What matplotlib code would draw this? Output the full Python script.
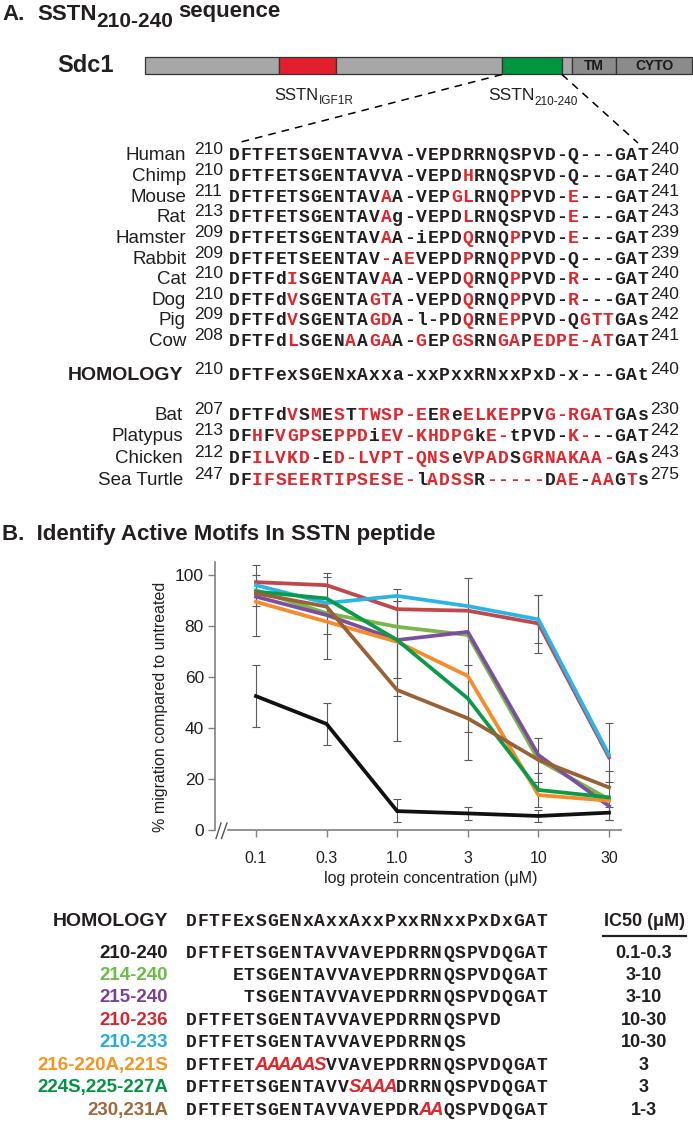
import matplotlib
matplotlib.use("Agg")
import matplotlib.pyplot as plt
from matplotlib.lines import Line2D
from matplotlib.patches import Rectangle

# ---------------- data ----------------
# Panel A: alignment
species = ["Human", "Chimp", "Mouse", "Rat", "Hamster", "Rabbit", "Cat", "Dog", "Pig", "Cow"]
species_start = [210, 210, 211, 213, 209, 209, 210, 210, 209, 208]
species_end = [240, 240, 241, 243, 239, 239, 240, 240, 242, 241]
species_seq = [
    "DFTFETSGENTAVVA-VEPDRRNQSPVD-Q---GAT",
    "DFTFETSGENTAVVA-VEPDHRNQSPVD-Q---GAT",
    "DFTFETSGENTAVAA-VEPGLRNQPPVD-E---GAT",
    "DFTFETSGENTAVAg-VEPDLRNQSPVD-E---GAT",
    "DFTFETSGENTAVAA-iEPDQRNQPPVD-E---GAT",
    "DFTFETSEENTAV-AEVEPDPRNQPPVD-Q---GAT",
    "DFTFdISGENTAVAA-VEPDQRNQPPVD-R---GAT",
    "DFTFdVSGENTAGTA-VEPDQRNQPPVD-R---GAT",
    "DFTFdVSGENTAGDA-l-PDQRNEPPVD-QGTTGAs",
    "DFTFdLSGENAAGAA-GEPGSRNGAPEDPE-ATGAT",
]
species_red = [
    [],
    [21],
    [14, 20, 21, 25, 30],
    [14, 21, 30],
    [14, 21, 25, 30],
    [14, 16, 21, 25],
    [6, 14, 21, 25, 30],
    [6, 13, 14, 21, 25, 30],
    [6, 13, 14, 21, 24, 25, 31, 32, 33],
    [6, 11, 13, 14, 17, 20, 21, 24, 25, 27, 28, 29, 30, 31, 32, 33],
]

homology_name = "HOMOLOGY"
homology_start, homology_end = 210, 240
homology_seq = "DFTFexSGENxAxxa-xxPxxRNxxPxD-x---GAt"

other_species = ["Bat", "Platypus", "Chicken", "Sea Turtle"]
other_start = [207, 213, 212, 247]
other_end = [230, 242, 243, 275]
other_seq = [
    "DFTFdVSMESTTWSP-EEReELKEPPVG-RGATGAs",
    "DFHFVGPSEPPDiEV-KHDPGkE-tPVD-K---GAT",
    "DFILVKD-ED-LVPT-QNSeVPADSGRNAKAA-GAs",
    "DFIFSEERTIPSESE-lADSSR-----DAE-AAGTs",
]
other_red = [
    [6, 8, 10, 12, 13, 14, 15, 16, 17, 19, 21, 22, 23, 24, 25, 28, 29, 30, 31, 32, 33],
    [3, 5, 6, 7, 8, 10, 11, 12, 14, 15, 16, 17, 18, 19, 20, 21, 23, 24, 30, 31],
    [3, 4, 5, 6, 7, 10, 11, 12, 13, 14, 15, 16, 17, 18, 19, 21, 22, 23, 24,
     26, 27, 28, 29, 30, 31, 32, 33],
    [3, 4, 5, 6, 7, 8, 9, 10, 11, 12, 13, 14, 15, 16, 18, 19, 20, 21,
     23, 24, 25, 26, 27, 29, 30, 32, 33, 35],
]

# Sdc1 domain diagram
domain_names = ["", "", "", "", "", "TM", "CYTO"]
domain_start = [145, 279, 336, 502, 562, 572, 616]
domain_end = [279, 336, 502, 562, 572, 616, 692]
domain_colors = ["#a7a7a7", "#e31f2d", "#a7a7a7", "#00963f", "#a7a7a7", "#8b8b8b", "#8b8b8b"]

# Panel B: migration data
conc_labels = ["0.1", "0.3", "1.0", "3", "10", "30"]
peptides = ["210-240", "214-240", "215-240", "210-236", "210-233",
            "216-220A,221S", "224S,225-227A", "230,231A"]
mig_210_240 = [52.5, 41.6, 7.4, 6.5, 5.5, 6.8]
mig_214_240 = [94.0, 85.0, 79.7, 76.5, 27.5, 12.0]
mig_215_240 = [91.5, 84.3, 74.5, 77.7, 29.4, 9.4]
mig_210_236 = [97.2, 96.0, 86.6, 86.0, 81.0, 28.5]
mig_210_233 = [96.0, 89.0, 91.8, 87.8, 82.6, 29.4]
mig_216_221 = [89.5, 81.7, 73.8, 60.4, 13.7, 11.5]
mig_224_227 = [93.5, 90.8, 74.5, 51.6, 15.7, 12.8]
mig_230_231 = [92.8, 87.6, 54.9, 43.8, 27.5, 16.7]
migration = [mig_210_240, mig_214_240, mig_215_240, mig_210_236, mig_210_233,
             mig_216_221, mig_224_227, mig_230_231]

err_pos = [0, 0, 0, 1, 1, 1, 2, 2, 2, 2, 3, 3, 3, 4, 4, 4, 4, 4, 5, 5, 5]
err_lo = [76, 88, 40.5, 67, 77, 33.2, 35, 52.5, 59.6, 3, 27.5, 38.5, 4,
          69.5, 73.5, 19, 9, 3, 19, 4, 4]
err_hi = [104, 100, 64.6, 100.8, 99.3, 50, 94.6, 90, 90, 12, 99, 64.7, 9,
          92, 92, 36, 22.2, 8, 41.8, 23.3, 9]

# Panel B: table
table_motif = "DFTFExSGENxAxxAxxPxxRNxxPxDxGAT"
peptide_seq = [
    "DFTFETSGENTAVVAVEPDRRNQSPVDQGAT",
    "    ETSGENTAVVAVEPDRRNQSPVDQGAT",
    "     TSGENTAVVAVEPDRRNQSPVDQGAT",
    "DFTFETSGENTAVVAVEPDRRNQSPVD",
    "DFTFETSGENTAVVAVEPDRRNQS",
    "DFTFETAAAAASVVAVEPDRRNQSPVDQGAT",
    "DFTFETSGENTAVVSAAADRRNQSPVDQGAT",
    "DFTFETSGENTAVVAVEPDRAAQSPVDQGAT",
]
peptide_mut = [[], [], [], [], [], [7, 8, 9, 10, 11, 12], [15, 16, 17, 18], [21, 22]]
ic50 = ["0.1-0.3", "3-10", "3-10", "10-30", "10-30", "3", "3", "1-3"]

# ---------------- styles ----------------
label_colors = ["#231f20", "#6abd45", "#7b3f98", "#d7262d", "#27aae1",
                "#f7941d", "#009444", "#9e6a3c"]
line_colors = ["#111111", "#7ab648", "#7b4f9e", "#c0474a", "#2bb5e6",
               "#f68b2a", "#0a9a48", "#9b6136"]
line_order = [3, 4, 1, 2, 5, 6, 7, 0]
BLACK = "#231f20"
RED = "#e3242b"

W, H = 693, 1129
fig = plt.figure(figsize=(W / 100, H / 100), dpi=100)
renderer = fig.canvas.get_renderer()
SANS = "Liberation Sans"
MONO = "Liberation Mono"


def fx(x):
    return x / W


def fy(y):
    return 1 - y / H


def txt(x, y, s, **kw):
    kw.setdefault("family", SANS)
    kw.setdefault("color", BLACK)
    return fig.text(fx(x), fy(y), s, **kw)


def right_px(t):
    """right edge of a text object in pixels"""
    return t.get_window_extent(renderer=renderer).x1


CW = 11.7  # monospace cell width in px


def draw_seq(x0, ybase, seq, red_pos, fs=13, italic_red=False):
    for i, ch in enumerate(seq):
        if ch == " ":
            continue
        red = (i + 1) in red_pos
        kw = dict(family=MONO, weight="bold", fontsize=fs,
                  color=RED if red else BLACK, ha="center", va="baseline")
        if italic_red and red:
            kw.update(family=SANS, style="italic", fontsize=fs + 0.5)
        txt(x0 + (i + 0.5) * CW, ybase, ch, **kw)


# ---------------- Panel A ----------------
txt(2, 19.5, "A.", fontsize=16, weight="bold", va="baseline")
t = txt(37, 19.5, "SSTN", fontsize=16, weight="bold", va="baseline")
t = txt(right_px(t), 27, "210-240", fontsize=15, weight="bold", va="baseline")
txt(right_px(t) + 5, 17.5, "sequence", fontsize=16, weight="bold", va="baseline")

txt(57, 66, "Sdc1", fontsize=17, weight="bold", va="center")
for name, s, e, c in zip(domain_names, domain_start, domain_end, domain_colors):
    fig.patches.append(Rectangle((fx(s), fy(74)), (e - s) / W, 17 / H,
                                 transform=fig.transFigure, facecolor=c,
                                 edgecolor="#333333", linewidth=0.9))
    if name:
        txt((s + e) / 2, 66.5, name, fontsize=10, weight="bold",
            ha="center", va="center", color="#1a1a1a")

t = txt(274, 100, "SSTN", fontsize=12, va="baseline")
txt(right_px(t) + 0.5, 104, "IGF1R", fontsize=8.5, va="baseline")
t = txt(488, 100, "SSTN", fontsize=12.5, va="baseline")
txt(right_px(t) + 0.5, 105, "210-240", fontsize=8.5, va="baseline")

fig.lines.append(Line2D([fx(502), fx(237)], [fy(74.5), fy(143)],
                        transform=fig.transFigure, color="black",
                        linewidth=1.1, dashes=(5, 4)))
fig.lines.append(Line2D([fx(562), fx(638)], [fy(74.5), fy(143)],
                        transform=fig.transFigure, color="black",
                        linewidth=1.1, dashes=(5, 4)))

SEQ_X0 = 228
top_centers = [155, 175.6, 196.2, 216.8, 237.4, 258, 278.6, 299.2, 319.8, 340.4]
for name, st, en, seq, red, yc in zip(species, species_start, species_end,
                                       species_seq, species_red, top_centers):
    yb = yc + 5.5
    txt(186, yb, name, fontsize=13.5, ha="right", va="baseline")
    txt(194, yb - 6, str(st), fontsize=12.5, va="baseline")
    draw_seq(SEQ_X0, yb, seq, red)
    txt(SEQ_X0 + len(seq) * CW + 1, yb - 6, str(en), fontsize=12.5, va="baseline")

yb = 375 + 5.5
txt(183, yb, homology_name, fontsize=14, weight="bold", ha="right", va="baseline")
txt(194, yb - 6, str(homology_start), fontsize=12.5, va="baseline")
draw_seq(SEQ_X0, yb, homology_seq, [])
txt(SEQ_X0 + len(homology_seq) * CW + 1, yb - 6, str(homology_end),
    fontsize=12.5, va="baseline")

low_centers = [414, 435.5, 457.5, 479.5]
for name, st, en, seq, red, yc in zip(other_species, other_start, other_end,
                                       other_seq, other_red, low_centers):
    yb = yc + 5.5
    txt(183, yb, name, fontsize=13.5, ha="right", va="baseline")
    txt(194, yb - 6, str(st), fontsize=12.5, va="baseline")
    draw_seq(SEQ_X0, yb, seq, red)
    txt(SEQ_X0 + len(seq) * CW + 1, yb - 6, str(en), fontsize=12.5, va="baseline")

# ---------------- Panel B ----------------
txt(2, 540, "B.  Identify Active Motifs In SSTN peptide", fontsize=16,
    weight="bold", va="baseline")

ax = fig.add_axes([fx(215), fy(830), (621 - 215) / W, (830 - 562) / H])
ax.set_xlim(-0.58, 5.17)
ax.set_ylim(0, 105.1)
xs = list(range(len(conc_labels)))

mid = [(a + b) / 2 for a, b in zip(err_lo, err_hi)]
ax.errorbar(err_pos, mid, yerr=[[m - a for m, a in zip(mid, err_lo)],
                                [b - m for m, b in zip(mid, err_hi)]],
            fmt="none", ecolor="#5a5a5a", elinewidth=0.8, capsize=3,
            capthick=0.8, zorder=2)
for k in line_order:
    ax.plot(xs, migration[k], color=line_colors[k], linewidth=2.7,
            solid_joinstyle="miter", zorder=3 + line_order.index(k))

ax.set_xticks(xs)
ax.set_xticklabels(conc_labels, fontsize=11.5, family=SANS, color=BLACK)
ax.set_yticks([0, 20, 40, 60, 80, 100])
ax.set_yticklabels(["0", "20", "40", "60", "80", "100"], fontsize=12.5,
                   family=SANS, color=BLACK)
ax.tick_params(axis="y", direction="out", length=5, width=1, color="#808080", pad=3)
ax.tick_params(axis="x", direction="out", length=5, width=1, color="#808080", pad=10)
for sp in ["top", "right"]:
    ax.spines[sp].set_visible(False)
ax.spines["left"].set_color("#808080")
ax.spines["left"].set_linewidth(1.2)
ax.spines["bottom"].set_color("#808080")
ax.spines["bottom"].set_linewidth(1.2)
ax.spines["bottom"].set_bounds(-0.40, 5.17)
ax.patch.set_visible(False)

# axis break marks
for x1, x2 in [(216, 221), (221.5, 227)]:
    fig.lines.append(Line2D([fx(x1), fx(x2)], [fy(838.5), fy(823)],
                            transform=fig.transFigure, color="#555555",
                            linewidth=1.0))

txt(161, 707, "% migration compared to untreated", fontsize=11.5,
    rotation=90, ha="center", va="center")
txt(431, 879, "log protein concentration (\u03bcM)", fontsize=11.5,
    ha="center", va="center")

# table
TX0 = 185
txt(168, 926.5, homology_name, fontsize=14, weight="bold", ha="right", va="baseline")
draw_seq(TX0, 926.5, table_motif, [])
txt(644, 926.5, "IC50 (\u03bcM)", fontsize=13, weight="bold", ha="center",
    va="baseline")
fig.lines.append(Line2D([fx(603), fx(686)], [fy(936), fy(936)],
                        transform=fig.transFigure, color=BLACK, linewidth=1.6))

row_centers = [952.7, 974.8, 997.0, 1019.3, 1041.6, 1064.4, 1086.8, 1109.2]
for name, seq, mut, val, col, yc in zip(peptides, peptide_seq, peptide_mut,
                                        ic50, label_colors, row_centers):
    yb = yc + 5.5
    txt(168, yb, name, fontsize=13.5, weight="bold", ha="right", va="baseline",
        color=col)
    draw_seq(TX0, yb, seq, mut, italic_red=True)
    txt(644, yb, val, fontsize=13, weight="bold", ha="center", va="baseline")

fig.savefig("out.png", dpi=100)
